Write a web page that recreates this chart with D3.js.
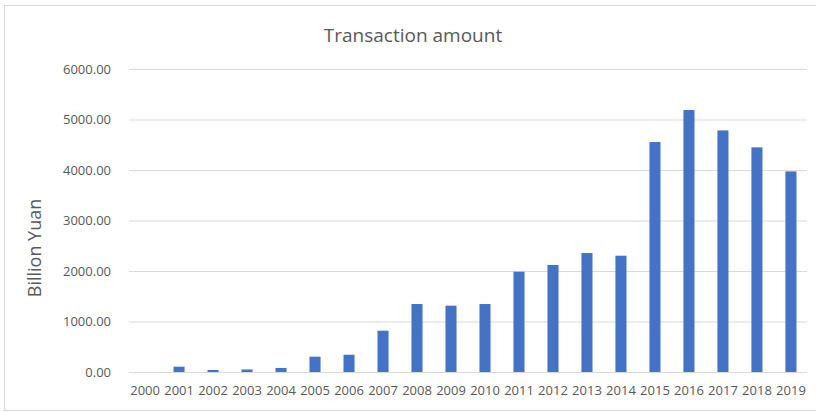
<!DOCTYPE html>
<html>
<head>
<meta charset="utf-8">
<script src="https://cdn.jsdelivr.net/npm/d3@7"></script>
<style>
  body { margin: 0; background: #fff; }
  svg text { font-family: "Open Sans", "Noto Sans", sans-serif; fill: #595959; }
</style>
</head>
<body>
<div id="chart"></div>
<script>
const years = ["2000","2001","2002","2003","2004","2005","2006","2007","2008","2009",
  "2010","2011","2012","2013","2014","2015","2016","2017","2018","2019"];
const amounts = [0, 105, 40, 50, 80, 303, 342, 818, 1346, 1313,
  1346, 1986, 2119, 2356, 2303, 4554, 5188, 4784, 4448, 3972];
const yTicks = [0, 1000, 2000, 3000, 4000, 5000, 6000];

const width = 816, height = 412;
const margin = {top: 69, right: 9, bottom: 40, left: 129};

const svg = d3.select('#chart')
  .append('svg')
  .attr('width', width)
  .attr('height', height);

// chart frame
svg.append('rect')
  .attr('x', 4.5).attr('y', 5.5)
  .attr('width', 816).attr('height', 405)
  .attr('fill', 'none')
  .attr('stroke', '#d9d9d9');

const x = d3.scaleBand()
  .domain(years)
  .range([margin.left, width - margin.right])
  .paddingInner(0.675)
  .paddingOuter(0.31);

const y = d3.scaleLinear()
  .domain([0, 6000])
  .range([372, margin.top]);

// gridlines + y labels
const yAxis = svg.append('g')
  .attr('transform', `translate(${margin.left},0)`)
  .call(d3.axisLeft(y).tickValues(yTicks).tickSize(-(width - margin.right - margin.left))
    .tickPadding(18).tickFormat(d3.format('.2f')));
yAxis.select('.domain').remove();
yAxis.selectAll('.tick line').attr('stroke', '#d9d9d9');
yAxis.selectAll('.tick text').attr('font-size', 13);

// bars
svg.append('g')
  .selectAll('rect.bar')
  .data(amounts)
  .enter()
  .append('rect')
  .attr('class', 'bar')
  .attr('x', (d, i) => x(years[i]))
  .attr('y', d => y(d))
  .attr('width', x.bandwidth())
  .attr('height', d => y(0) - y(d))
  .attr('fill', '#4472c4');

// x labels
const xAxis = svg.append('g')
  .attr('transform', `translate(0,${y(0)})`)
  .call(d3.axisBottom(x).tickSize(0).tickPadding(14));
xAxis.select('.domain').remove();
xAxis.selectAll('.tick text').attr('font-size', 13);

// title
svg.append('text')
  .attr('x', 413).attr('y', 42)
  .attr('text-anchor', 'middle')
  .attr('font-size', 19)
  .text('Transaction amount');

// y title
svg.append('text')
  .attr('transform', 'translate(41,248) rotate(-90)')
  .attr('text-anchor', 'middle')
  .attr('font-size', 18)
  .text('Billion Yuan');
</script>
</body>
</html>
